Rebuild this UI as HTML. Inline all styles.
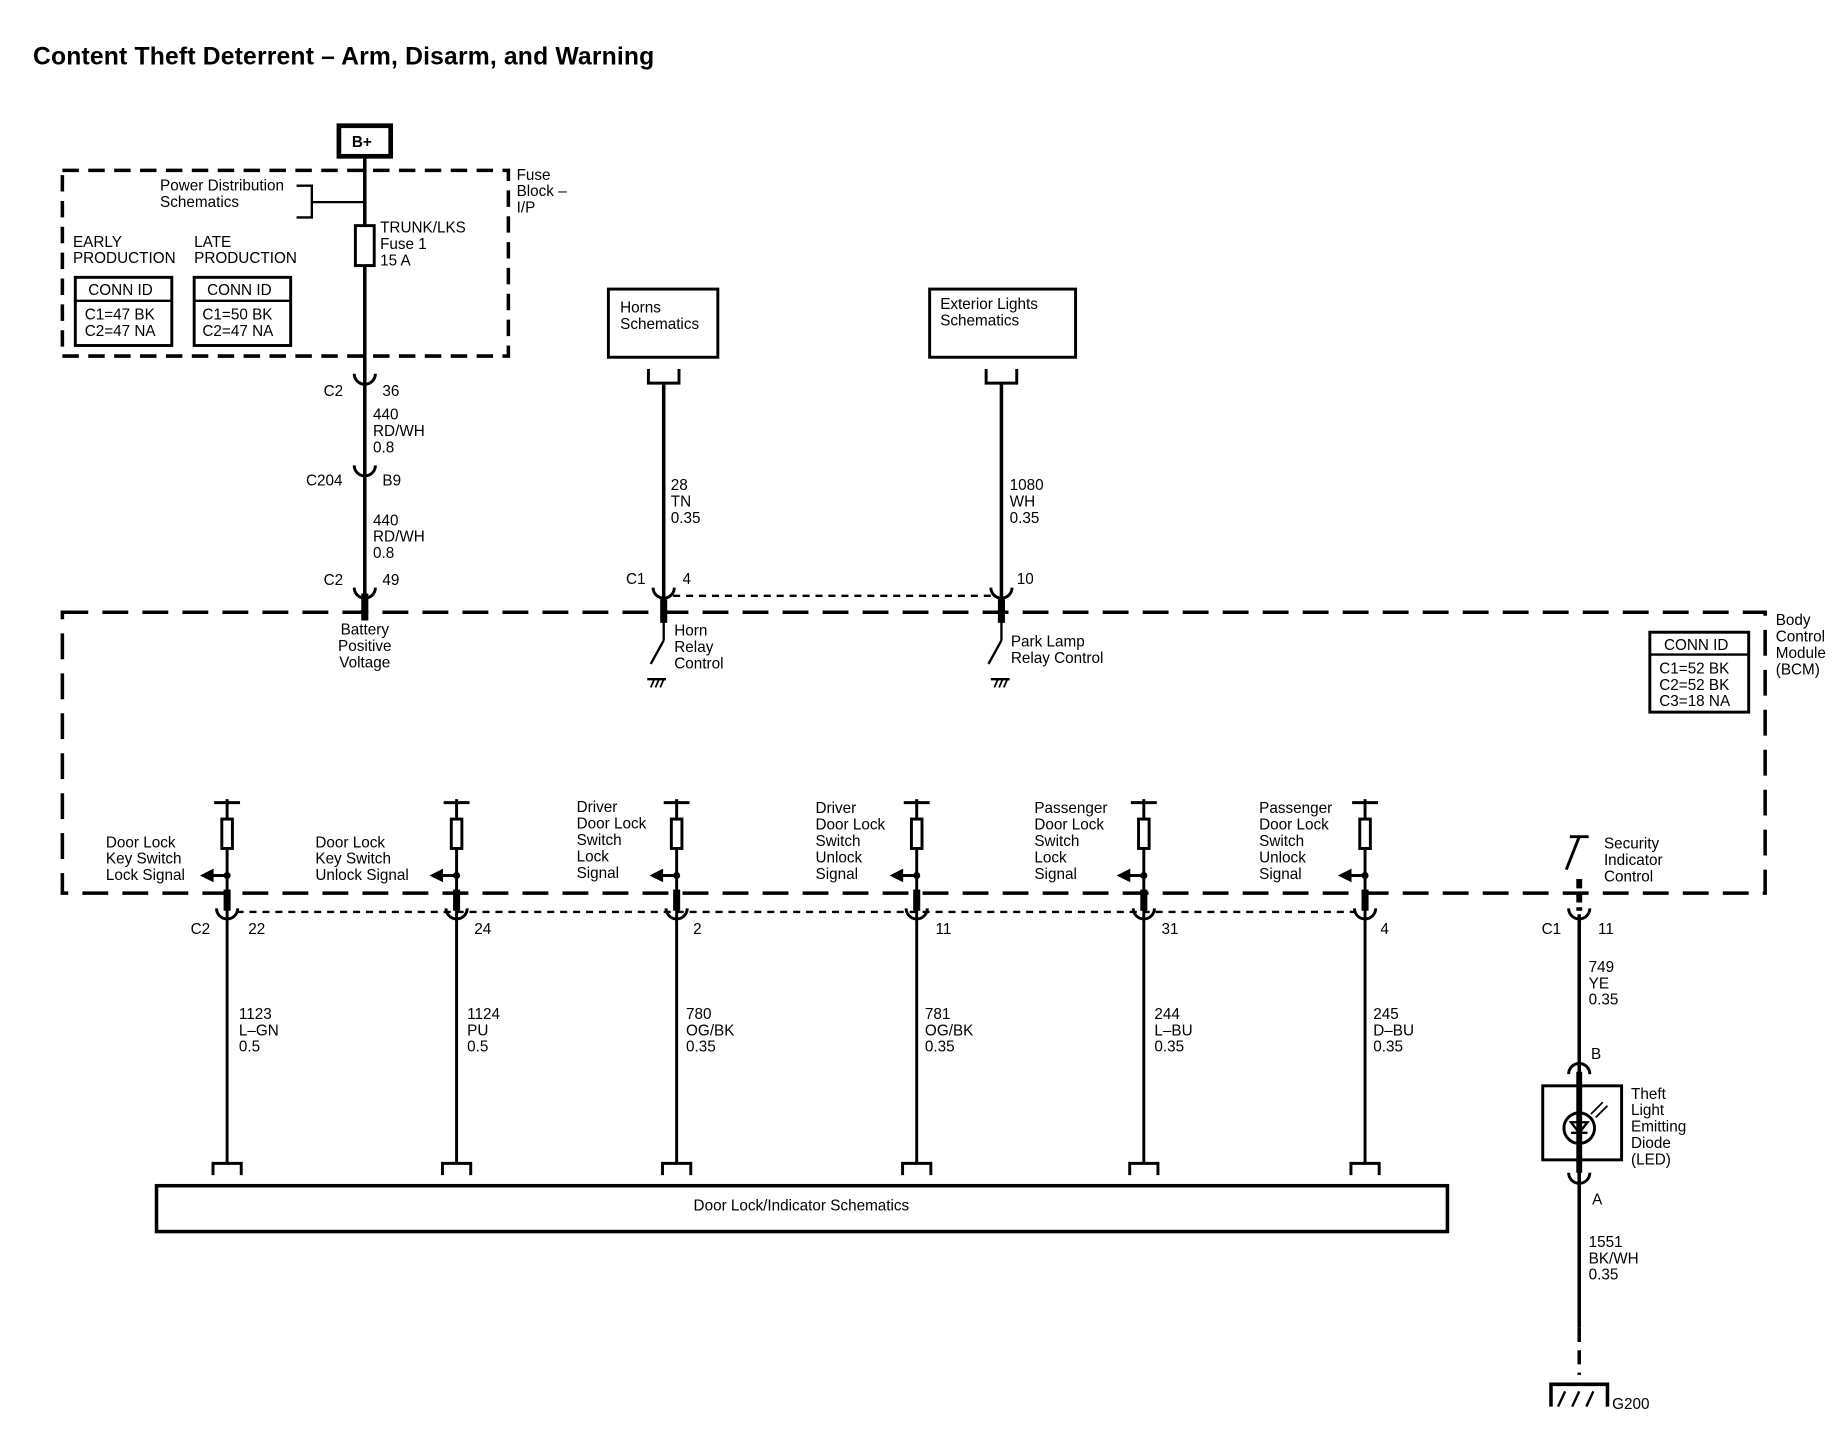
<!DOCTYPE html>
<html><head><meta charset="utf-8"><style>
html,body{margin:0;padding:0;background:#fff}
svg{display:block}
text{font-family:"Liberation Sans",Arial,sans-serif;font-size:13px;fill:#000}
</style></head><body>
<svg width="1844" height="1456" viewBox="0 0 1567 1239" preserveAspectRatio="none" xmlns="http://www.w3.org/2000/svg">
<rect width="1567" height="1239" fill="#fff"/>
<text x="28" y="55" style="font-size:21px;font-weight:bold" textLength="528">Content Theft Deterrent – Arm, Disarm, and Warning</text>
<g stroke="#000" fill="none">
<rect x="288" y="107" width="44" height="26" stroke-width="4"/>
<rect x="53" y="145" width="379" height="158" stroke-width="3" stroke-dasharray="14,8"/>
<line x1="310" y1="134" x2="310" y2="512" stroke-width="3"/>
<line x1="310" y1="172" x2="265" y2="172" stroke-width="2"/>
<polyline points="252,158 265,158 265,185 252,185" stroke-width="2"/>
<rect x="302" y="192" width="16" height="34" fill="#fff" stroke-width="2.5"/>
<rect x="64" y="236" width="82" height="58" stroke-width="2.5"/><line x1="64" y1="256" x2="146" y2="256" stroke-width="2"/>
<rect x="165" y="236" width="82" height="58" stroke-width="2.5"/><line x1="165" y1="256" x2="247" y2="256" stroke-width="2"/>
<path d="M301,318 A9,9 0 0 0 319,318" stroke-width="2.5"/>
<path d="M301,396 A9,9 0 0 0 319,396" stroke-width="2.5"/>
<path d="M301,500 A9,9 0 0 0 319,500" stroke-width="2.5"/>
<line x1="310" y1="505" x2="310" y2="528" stroke-width="6"/>
<rect x="517" y="246" width="93" height="58" stroke-width="2.5"/>
<polyline points="551,314 551,326 577,326 577,314" stroke-width="2.5"/>
<line x1="564" y1="326" x2="564" y2="530" stroke-width="3"/>
<path d="M555,500 A9,9 0 0 0 573,500" stroke-width="2.5"/>
<line x1="564" y1="510" x2="564" y2="530" stroke-width="6"/>
<line x1="564" y1="530" x2="564" y2="545" stroke-width="2"/>
<line x1="564" y1="545" x2="553" y2="565" stroke-width="2"/>
<line x1="550" y1="578" x2="566" y2="578" stroke-width="2"/>
<path d="M553,585 L556,578 M557,585 L560,578 M561,585 L564,578" stroke-width="1.5"/>
<rect x="790" y="246" width="124" height="58" stroke-width="2.5"/>
<polyline points="838,314 838,326 864,326 864,314" stroke-width="2.5"/>
<line x1="851" y1="326" x2="851" y2="530" stroke-width="3"/>
<path d="M842,500 A9,9 0 0 0 860,500" stroke-width="2.5"/>
<line x1="851" y1="510" x2="851" y2="530" stroke-width="6"/>
<line x1="851" y1="530" x2="851" y2="545" stroke-width="2"/>
<line x1="851" y1="545" x2="840" y2="565" stroke-width="2"/>
<line x1="842" y1="578" x2="858" y2="578" stroke-width="2"/>
<path d="M845,585 L848,578 M849,585 L852,578 M853,585 L856,578" stroke-width="1.5"/>
<line x1="572" y1="507" x2="843" y2="507" stroke-width="2" stroke-dasharray="6,5"/>
<rect x="53" y="521" width="1447" height="239" stroke-width="3" stroke-dasharray="22,12"/>
<rect x="1402" y="538" width="84" height="68" stroke-width="2.5"/><line x1="1402" y1="557" x2="1486" y2="557" stroke-width="2"/>
<line x1="201" y1="776" x2="1152" y2="776" stroke-width="2" stroke-dasharray="6,5"/>
<rect x="133" y="1009" width="1097" height="39" stroke-width="3"/>
</g>
<g stroke="#000" fill="none">
<g transform="translate(193,0)">
<line x1="-11" y1="683" x2="11" y2="683" stroke-width="2.5"/><line x1="0" y1="680" x2="0" y2="990" stroke-width="2.5"/>
<rect x="-4.5" y="697" width="9" height="25" fill="#fff" stroke-width="2.5"/><circle cx="0" cy="745" r="2.5" fill="#000"/>
<line x1="0" y1="745" x2="-14" y2="745" stroke-width="2.5"/><path d="M-22,745 L-12,740 L-12,750Z" fill="#000"/>
<line x1="0" y1="757" x2="0" y2="775" stroke-width="6"/><path d="M-9,773 A9,9 0 0 0 9,773" stroke-width="2.5"/>
<polyline points="-12,1000 -12,990 12,990 12,1000" stroke-width="2.5"/></g>
<g transform="translate(388,0)">
<line x1="-11" y1="683" x2="11" y2="683" stroke-width="2.5"/><line x1="0" y1="680" x2="0" y2="990" stroke-width="2.5"/>
<rect x="-4.5" y="697" width="9" height="25" fill="#fff" stroke-width="2.5"/><circle cx="0" cy="745" r="2.5" fill="#000"/>
<line x1="0" y1="745" x2="-14" y2="745" stroke-width="2.5"/><path d="M-22,745 L-12,740 L-12,750Z" fill="#000"/>
<line x1="0" y1="757" x2="0" y2="775" stroke-width="6"/><path d="M-9,773 A9,9 0 0 0 9,773" stroke-width="2.5"/>
<polyline points="-12,1000 -12,990 12,990 12,1000" stroke-width="2.5"/></g>
<g transform="translate(575,0)">
<line x1="-11" y1="683" x2="11" y2="683" stroke-width="2.5"/><line x1="0" y1="680" x2="0" y2="990" stroke-width="2.5"/>
<rect x="-4.5" y="697" width="9" height="25" fill="#fff" stroke-width="2.5"/><circle cx="0" cy="745" r="2.5" fill="#000"/>
<line x1="0" y1="745" x2="-14" y2="745" stroke-width="2.5"/><path d="M-22,745 L-12,740 L-12,750Z" fill="#000"/>
<line x1="0" y1="757" x2="0" y2="775" stroke-width="6"/><path d="M-9,773 A9,9 0 0 0 9,773" stroke-width="2.5"/>
<polyline points="-12,1000 -12,990 12,990 12,1000" stroke-width="2.5"/></g>
<g transform="translate(779,0)">
<line x1="-11" y1="683" x2="11" y2="683" stroke-width="2.5"/><line x1="0" y1="680" x2="0" y2="990" stroke-width="2.5"/>
<rect x="-4.5" y="697" width="9" height="25" fill="#fff" stroke-width="2.5"/><circle cx="0" cy="745" r="2.5" fill="#000"/>
<line x1="0" y1="745" x2="-14" y2="745" stroke-width="2.5"/><path d="M-22,745 L-12,740 L-12,750Z" fill="#000"/>
<line x1="0" y1="757" x2="0" y2="775" stroke-width="6"/><path d="M-9,773 A9,9 0 0 0 9,773" stroke-width="2.5"/>
<polyline points="-12,1000 -12,990 12,990 12,1000" stroke-width="2.5"/></g>
<g transform="translate(972,0)">
<line x1="-11" y1="683" x2="11" y2="683" stroke-width="2.5"/><line x1="0" y1="680" x2="0" y2="990" stroke-width="2.5"/>
<rect x="-4.5" y="697" width="9" height="25" fill="#fff" stroke-width="2.5"/><circle cx="0" cy="745" r="2.5" fill="#000"/>
<line x1="0" y1="745" x2="-14" y2="745" stroke-width="2.5"/><path d="M-22,745 L-12,740 L-12,750Z" fill="#000"/>
<line x1="0" y1="757" x2="0" y2="775" stroke-width="6"/><path d="M-9,773 A9,9 0 0 0 9,773" stroke-width="2.5"/>
<polyline points="-12,1000 -12,990 12,990 12,1000" stroke-width="2.5"/></g>
<g transform="translate(1160,0)">
<line x1="-11" y1="683" x2="11" y2="683" stroke-width="2.5"/><line x1="0" y1="680" x2="0" y2="990" stroke-width="2.5"/>
<rect x="-4.5" y="697" width="9" height="25" fill="#fff" stroke-width="2.5"/><circle cx="0" cy="745" r="2.5" fill="#000"/>
<line x1="0" y1="745" x2="-14" y2="745" stroke-width="2.5"/><path d="M-22,745 L-12,740 L-12,750Z" fill="#000"/>
<line x1="0" y1="757" x2="0" y2="775" stroke-width="6"/><path d="M-9,773 A9,9 0 0 0 9,773" stroke-width="2.5"/>
<polyline points="-12,1000 -12,990 12,990 12,1000" stroke-width="2.5"/></g>
<line x1="1334" y1="712" x2="1350" y2="712" stroke-width="2.5"/>
<line x1="1342" y1="712" x2="1331" y2="740" stroke-width="2.5"/>
<line x1="1342" y1="748" x2="1342" y2="775" stroke-width="5" stroke-dasharray="8,4"/>
<path d="M1333,773 A9,9 0 0 0 1351,773" stroke-width="2.5"/>
<line x1="1342" y1="778" x2="1342" y2="1130" stroke-width="3"/>
<path d="M1333,914 A9,9 0 0 1 1351,914" stroke-width="2.5"/>
<line x1="1342" y1="912" x2="1342" y2="998" stroke-width="5"/>
<rect x="1311" y="924" width="67" height="63" stroke-width="2.5"/>
<circle cx="1342" cy="960" r="13" stroke-width="2.5"/>
<path d="M1335,955 L1349,955 L1342,964 Z M1335,964 L1349,964" stroke-width="2"/>
<path d="M1352,948 L1362,938 M1356,951 L1366,941" stroke-width="1.5"/>
<path d="M1333,998 A9,9 0 0 0 1351,998" stroke-width="2.5"/>
<line x1="1342" y1="1130" x2="1342" y2="1170" stroke-width="3" stroke-dasharray="12,7"/>
<polyline points="1318,1197 1318,1178 1366,1178 1366,1197" stroke-width="3"/>
<path d="M1324,1197 L1330,1184 M1336,1197 L1342,1184 M1348,1197 L1354,1184" stroke-width="2"/>
</g>
<g>
<text x="299" y="125" style="font-weight:bold">B+</text>
<text x="136" y="162">Power Distribution</text><text x="136" y="176">Schematics</text>
<text x="323" y="198">TRUNK/LKS</text><text x="323" y="212">Fuse 1</text><text x="323" y="226">15 A</text>
<text x="439" y="153">Fuse</text><text x="439" y="167">Block –</text><text x="439" y="181">I/P</text>
<text x="62" y="210">EARLY</text><text x="62" y="224">PRODUCTION</text>
<text x="165" y="210">LATE</text><text x="165" y="224">PRODUCTION</text>
<text x="75" y="251">CONN ID</text><text x="72" y="272">C1=47 BK</text><text x="72" y="286">C2=47 NA</text>
<text x="176" y="251">CONN ID</text><text x="172" y="272">C1=50 BK</text><text x="172" y="286">C2=47 NA</text>
<text x="275" y="337">C2</text><text x="325" y="337">36</text>
<text x="317" y="357">440</text><text x="317" y="371">RD/WH</text><text x="317" y="385">0.8</text>
<text x="260" y="413">C204</text><text x="325" y="413">B9</text>
<text x="317" y="447">440</text><text x="317" y="461">RD/WH</text><text x="317" y="475">0.8</text>
<text x="275" y="498">C2</text><text x="325" y="498">49</text>
<text x="310" y="540" text-anchor="middle">Battery</text><text x="310" y="554" text-anchor="middle">Positive</text><text x="310" y="568" text-anchor="middle">Voltage</text>
<text x="527" y="266">Horns</text><text x="527" y="280">Schematics</text>
<text x="799" y="263">Exterior Lights</text><text x="799" y="277">Schematics</text>
<text x="570" y="417">28</text><text x="570" y="431">TN</text><text x="570" y="445">0.35</text>
<text x="858" y="417">1080</text><text x="858" y="431">WH</text><text x="858" y="445">0.35</text>
<text x="532" y="497">C1</text><text x="580" y="497">4</text><text x="864" y="497">10</text>
<text x="573" y="541">Horn</text><text x="573" y="555">Relay</text><text x="573" y="569">Control</text>
<text x="859" y="550">Park Lamp</text><text x="859" y="564">Relay Control</text>
<text x="1414" y="553">CONN ID</text><text x="1410" y="573">C1=52 BK</text><text x="1410" y="587">C2=52 BK</text><text x="1410" y="601">C3=18 NA</text>
<text x="1509" y="532">Body</text><text x="1509" y="546">Control</text><text x="1509" y="560">Module</text><text x="1509" y="574">(BCM)</text>
<text x="90" y="721">Door Lock</text><text x="90" y="735">Key Switch</text><text x="90" y="749">Lock Signal</text>
<text x="268" y="721">Door Lock</text><text x="268" y="735">Key Switch</text><text x="268" y="749">Unlock Signal</text>
<text x="490" y="691">Driver</text><text x="490" y="705">Door Lock</text><text x="490" y="719">Switch</text><text x="490" y="733">Lock</text><text x="490" y="747">Signal</text>
<text x="693" y="692">Driver</text><text x="693" y="706">Door Lock</text><text x="693" y="720">Switch</text><text x="693" y="734">Unlock</text><text x="693" y="748">Signal</text>
<text x="879" y="692">Passenger</text><text x="879" y="706">Door Lock</text><text x="879" y="720">Switch</text><text x="879" y="734">Lock</text><text x="879" y="748">Signal</text>
<text x="1070" y="692">Passenger</text><text x="1070" y="706">Door Lock</text><text x="1070" y="720">Switch</text><text x="1070" y="734">Unlock</text><text x="1070" y="748">Signal</text>
<text x="1363" y="722">Security</text><text x="1363" y="736">Indicator</text><text x="1363" y="750">Control</text>
<text x="162" y="795">C2</text><text x="211" y="795">22</text><text x="403" y="795">24</text><text x="589" y="795">2</text><text x="795" y="795">11</text><text x="987" y="795">31</text><text x="1173" y="795">4</text>
<text x="1310" y="795">C1</text><text x="1358" y="795">11</text>
<text x="203" y="867">1123</text><text x="203" y="881">L–GN</text><text x="203" y="895">0.5</text>
<text x="397" y="867">1124</text><text x="397" y="881">PU</text><text x="397" y="895">0.5</text>
<text x="583" y="867">780</text><text x="583" y="881">OG/BK</text><text x="583" y="895">0.35</text>
<text x="786" y="867">781</text><text x="786" y="881">OG/BK</text><text x="786" y="895">0.35</text>
<text x="981" y="867">244</text><text x="981" y="881">L–BU</text><text x="981" y="895">0.35</text>
<text x="1167" y="867">245</text><text x="1167" y="881">D–BU</text><text x="1167" y="895">0.35</text>
<text x="1350" y="827">749</text><text x="1350" y="841">YE</text><text x="1350" y="855">0.35</text>
<text x="1352" y="901">B</text>
<text x="1386" y="935">Theft</text><text x="1386" y="949">Light</text><text x="1386" y="963">Emitting</text><text x="1386" y="977">Diode</text><text x="1386" y="991">(LED)</text>
<text x="1353" y="1025">A</text>
<text x="1350" y="1061">1551</text><text x="1350" y="1075">BK/WH</text><text x="1350" y="1089">0.35</text>
<text x="1370" y="1199">G200</text>
<text x="681" y="1030" text-anchor="middle">Door Lock/Indicator Schematics</text>
</g>
</svg>
</body></html>
